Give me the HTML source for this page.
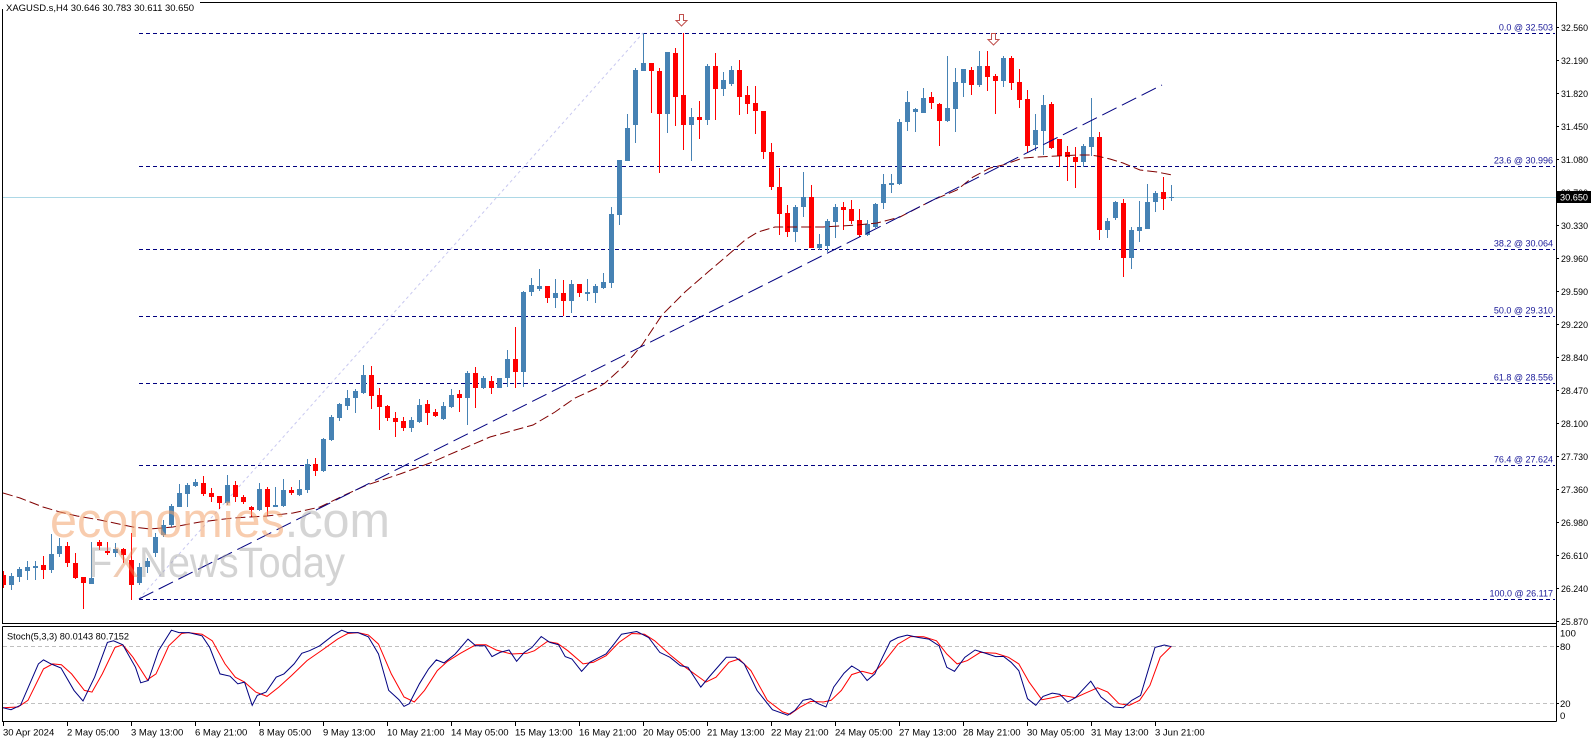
<!DOCTYPE html>
<html><head><meta charset="utf-8"><style>
html,body{margin:0;padding:0;background:#fff;}
svg{display:block;}
text{font-family:"Liberation Sans",sans-serif;}
</style></head><body>
<svg width="1596" height="743" viewBox="0 0 1596 743" xmlns="http://www.w3.org/2000/svg">
<defs><clipPath id="pc"><rect x="3" y="3" width="1553" height="620"/></clipPath>
<clipPath id="sc"><rect x="3" y="627" width="1553" height="94"/></clipPath></defs>
<rect width="1596" height="743" fill="#fff"/>

<!-- frame -->
<g stroke="#000" stroke-width="1" fill="none" shape-rendering="crispEdges">
<path d="M2.5 2.5H1556.5V721.5M2.5 2.5V623.5H1556.5M2.5 626.5H1556.5M2.5 626.5V721.5H1556.5"/>
</g>

<g clip-path="url(#pc)">
<!-- current price line -->
<line x1="3" y1="197.5" x2="1556" y2="197.5" stroke="#add8e6" stroke-width="1"/>
<!-- fib levels -->
<g stroke="#000080" stroke-width="1" stroke-dasharray="4 3" shape-rendering="crispEdges">
<line x1="139" y1="33.5" x2="1555" y2="33.5"/>
<line x1="139" y1="166.5" x2="1555" y2="166.5"/>
<line x1="139" y1="249.5" x2="1555" y2="249.5"/>
<line x1="139" y1="316.5" x2="1555" y2="316.5"/>
<line x1="139" y1="383.5" x2="1555" y2="383.5"/>
<line x1="139" y1="465.5" x2="1555" y2="465.5"/>
<line x1="139" y1="599.5" x2="1555" y2="599.5"/>
</g>
<line x1="139" y1="599" x2="643" y2="33" stroke="#c8c8f0" stroke-width="1" stroke-dasharray="3 3"/>

<!-- candles -->
<path stroke="#4682b4" stroke-width="1" fill="none" d="M11.5 573V590M19.5 567V582M27.5 561V580M35.5 561V580M51.5 534V573M59.5 538V557M91.5 542V584M115.5 543V557M139.5 563V585M147.5 558V573M155.5 533V557M163.5 520V537M171.5 504V527M179.5 484V507M187.5 483V507M195.5 479V487M227.5 475V505M259.5 483V511M275.5 487V507M283.5 479V507M299.5 480V496M307.5 459V493M323.5 438V472M331.5 415V441M339.5 403V421M347.5 390V410M355.5 389V413M363.5 365V394M411.5 417V432M419.5 399V423M443.5 402V420M451.5 389V408M467.5 371V425M483.5 376V389M499.5 378V388M507.5 350V387M523.5 291V387M531.5 278V296M539.5 269V291M555.5 279V308M571.5 280V313M587.5 279V301M595.5 284V303M603.5 273V289M611.5 207V288M619.5 160V225M627.5 114V161M635.5 68V143M643.5 33V71M667.5 52V133M691.5 108V161M707.5 64V125M723.5 72V96M731.5 66V86M795.5 205V242M803.5 172V217M819.5 234V250M827.5 219V252M835.5 204V238M867.5 220V236M875.5 203V228M883.5 174V209M891.5 174V193M899.5 119V185M907.5 91V131M915.5 108V132M923.5 88V113M947.5 56V122M955.5 68V132M963.5 69V97M979.5 51V87M1003.5 56V87M1035.5 114V151M1043.5 95V155M1083.5 144V167M1091.5 98V156M1107.5 218V238M1115.5 201V220M1131.5 227V269M1139.5 201V242M1147.5 184V229M1155.5 191V212M1171.5 185V201"/>
<path fill="#4682b4" d="M9 576h5V585h-5ZM17 569h5V577h-5ZM25 567h5V571h-5ZM33 566h5V568h-5ZM49 554h5V570h-5ZM57 546h5V554h-5ZM89 578h5V584h-5ZM113 549h5V553h-5ZM137 567h5V583h-5ZM145 561h5V567h-5ZM153 537h5V553h-5ZM161 525h5V535h-5ZM169 506h5V525h-5ZM177 493h5V507h-5ZM185 485h5V494h-5ZM193 482h5V486h-5ZM225 485h5V503h-5ZM257 489h5V510h-5ZM273 505h5V507h-5ZM281 490h5V506h-5ZM297 489h5V495h-5ZM305 464h5V490h-5ZM321 439h5V471h-5ZM329 417h5V440h-5ZM337 404h5V418h-5ZM345 398h5V406h-5ZM353 391h5V398h-5ZM361 375h5V393h-5ZM409 420h5V428h-5ZM417 405h5V422h-5ZM441 406h5V419h-5ZM449 395h5V407h-5ZM465 373h5V398h-5ZM481 378h5V388h-5ZM497 378h5V388h-5ZM505 359h5V378h-5ZM521 292h5V372h-5ZM529 285h5V292h-5ZM537 286h5V289h-5ZM553 293h5V298h-5ZM569 284h5V301h-5ZM585 292h5V294h-5ZM593 286h5V293h-5ZM601 282h5V288h-5ZM609 214h5V283h-5ZM617 160h5V215h-5ZM625 128h5V161h-5ZM633 70h5V125h-5ZM641 63h5V71h-5ZM665 52h5V114h-5ZM689 117h5V125h-5ZM705 66h5V120h-5ZM721 80h5V89h-5ZM729 70h5V84h-5ZM793 207h5V232h-5ZM801 197h5V207h-5ZM817 244h5V248h-5ZM825 221h5V246h-5ZM833 207h5V222h-5ZM865 224h5V235h-5ZM873 204h5V227h-5ZM881 184h5V203h-5ZM889 183h5V185h-5ZM897 122h5V184h-5ZM905 102h5V122h-5ZM913 109h5V112h-5ZM921 98h5V113h-5ZM945 108h5V121h-5ZM953 82h5V109h-5ZM961 69h5V83h-5ZM977 66h5V85h-5ZM1001 58h5V81h-5ZM1033 130h5V145h-5ZM1041 105h5V131h-5ZM1081 146h5V162h-5ZM1089 137h5V147h-5ZM1105 221h5V230h-5ZM1113 202h5V218h-5ZM1129 230h5V258h-5ZM1137 227h5V231h-5ZM1145 202h5V229h-5ZM1153 193h5V202h-5ZM1169 197h5V198h-5Z"/>
<path stroke="#ff0000" stroke-width="1" fill="none" d="M3.5 571V588M43.5 556V579M67.5 542V567M75.5 553V579M83.5 577V609M99.5 540V550M107.5 542V555M123.5 548V563M131.5 533V600M203.5 476V496M211.5 488V502M219.5 496V509M235.5 481V502M243.5 495V504M251.5 506V517M267.5 487V516M291.5 487V495M315.5 458V476M371.5 366V409M379.5 388V430M387.5 405V421M395.5 412V437M403.5 417V431M427.5 400V425M435.5 409V417M459.5 390V412M475.5 367V408M491.5 376V394M515.5 327V388M547.5 286V303M563.5 280V316M579.5 284V297M651.5 63V113M659.5 68V173M675.5 48V126M683.5 33V150M699.5 101V139M715.5 53V120M739.5 60V115M747.5 86V114M755.5 86V134M763.5 111V159M771.5 143V190M779.5 168V235M787.5 205V237M811.5 185V248M843.5 202V230M851.5 200V224M859.5 209V237M931.5 92V109M939.5 103V146M971.5 67V95M987.5 51V91M995.5 74V114M1011.5 56V90M1019.5 69V108M1027.5 90V153M1051.5 102V149M1059.5 139V167M1067.5 146V181M1075.5 147V188M1099.5 132V240M1123.5 199V277M1163.5 177V210"/>
<path fill="#ff0000" d="M1 575h5V585h-5ZM41 565h5V570h-5ZM65 546h5V563h-5ZM73 563h5V578h-5ZM81 577h5V583h-5ZM97 542h5V546h-5ZM105 551h5V553h-5ZM121 549h5V555h-5ZM129 560h5V585h-5ZM201 483h5V494h-5ZM209 493h5V497h-5ZM217 496h5V503h-5ZM233 485h5V497h-5ZM241 497h5V502h-5ZM249 507h5V510h-5ZM265 489h5V507h-5ZM289 490h5V493h-5ZM313 464h5V471h-5ZM369 375h5V396h-5ZM377 395h5V407h-5ZM385 406h5V418h-5ZM393 418h5V422h-5ZM401 421h5V428h-5ZM425 404h5V413h-5ZM433 412h5V416h-5ZM457 394h5V398h-5ZM473 373h5V388h-5ZM489 381h5V388h-5ZM513 359h5V372h-5ZM545 286h5V298h-5ZM561 293h5V301h-5ZM577 284h5V293h-5ZM649 63h5V71h-5ZM657 71h5V114h-5ZM673 53h5V97h-5ZM681 95h5V125h-5ZM697 117h5V120h-5ZM713 66h5V89h-5ZM737 70h5V97h-5ZM745 95h5V104h-5ZM753 103h5V111h-5ZM761 111h5V152h-5ZM769 152h5V187h-5ZM777 187h5V214h-5ZM785 213h5V232h-5ZM809 197h5V248h-5ZM841 207h5V210h-5ZM849 209h5V221h-5ZM857 220h5V235h-5ZM929 97h5V103h-5ZM937 104h5V121h-5ZM969 70h5V85h-5ZM985 66h5V77h-5ZM993 76h5V81h-5ZM1009 58h5V83h-5ZM1017 82h5V100h-5ZM1025 99h5V146h-5ZM1049 104h5V148h-5ZM1057 139h5V156h-5ZM1065 152h5V157h-5ZM1073 157h5V162h-5ZM1097 137h5V230h-5ZM1121 203h5V258h-5ZM1161 192h5V199h-5Z"/>

<!-- moving average -->
<polyline fill="none" stroke="#800000" stroke-width="1" stroke-dasharray="10 4" points="3,493 20,498 43,507 60,512 77,516 100,520 133,527 150,529 173,527 200,522 233,518 267,516 293,513 320,507 347,494 367,485 400,474 430,463 460,450 490,437 515,430 533,425 555,412 575,398 597,388 605,383 625,365 642,345 662,315 685,292 708,272 728,255 745,240 758,232 775,227 800,227 823,227 857,225 877,223 900,217 933,200 957,190 973,177 990,168 1003,165 1023,158 1038,157 1057,156 1077,155 1090,155 1097,156 1110,159 1123,163 1140,170 1157,172 1172,175"/>
<!-- trendline -->
<line x1="139" y1="599" x2="1162" y2="85" stroke="#000080" stroke-width="1" stroke-dasharray="16 6"/>

<!-- watermark -->
<text x="50" y="537" font-size="49" textLength="340" lengthAdjust="spacingAndGlyphs" fill="#f4a46c" opacity="0.55">economies<tspan fill="#b4b4b4">.com</tspan></text>
<text x="88" y="577" font-size="43" textLength="257" lengthAdjust="spacingAndGlyphs" fill="#a0a0a0" opacity="0.45">F<tspan fill="#e0905a">X</tspan>NewsToday</text>

<!-- arrows -->
<path d="M679.5 14.5h4v6h3.5l-5.5 5.5l-5.5-5.5h3.5z" fill="#fff" stroke="#c0504d" stroke-width="1"/>
<path d="M991.5 33.5h4v6h3.5l-5.5 5.5l-5.5-5.5h3.5z" fill="#fff" stroke="#c0504d" stroke-width="1"/>
</g>

<!-- header -->
<rect x="0" y="0" width="200" height="9" fill="#fff"/>
<text x="6" y="11" font-size="9.5" textLength="188" lengthAdjust="spacingAndGlyphs" fill="#000">XAGUSD.s,H4  30.646 30.783 30.611 30.650</text>

<!-- fib labels -->
<g font-size="9" fill="#1a1a99" text-anchor="end">
<text x="1553" y="30.5">0.0 @ 32.503</text>
<text x="1553" y="163.5">23.6 @ 30.996</text>
<text x="1553" y="246.5">38.2 @ 30.064</text>
<text x="1553" y="313.5">50.0 @ 29.310</text>
<text x="1553" y="380.5">61.8 @ 28.556</text>
<text x="1553" y="462.5">76.4 @ 27.624</text>
<text x="1553" y="596.5">100.0 @ 26.117</text>
</g>

<!-- price axis -->
<path stroke="#000" stroke-width="1" shape-rendering="crispEdges" d="M1556 27.5h3M1556 60.5h3M1556 93.5h3M1556 126.5h3M1556 159.5h3M1556 192.5h3M1556 225.5h3M1556 258.5h3M1556 291.5h3M1556 324.5h3M1556 357.5h3M1556 390.5h3M1556 423.5h3M1556 456.5h3M1556 489.5h3M1556 522.5h3M1556 555.5h3M1556 588.5h3M1556 621.5h3"/>
<g font-size="9.5" fill="#000">
<text x="1561" y="31" textLength="27" lengthAdjust="spacingAndGlyphs">32.560</text>
<text x="1561" y="64" textLength="27" lengthAdjust="spacingAndGlyphs">32.190</text>
<text x="1561" y="97" textLength="27" lengthAdjust="spacingAndGlyphs">31.820</text>
<text x="1561" y="130" textLength="27" lengthAdjust="spacingAndGlyphs">31.450</text>
<text x="1561" y="163" textLength="27" lengthAdjust="spacingAndGlyphs">31.080</text>
<text x="1561" y="196" textLength="27" lengthAdjust="spacingAndGlyphs">30.700</text>
<text x="1561" y="229" textLength="27" lengthAdjust="spacingAndGlyphs">30.330</text>
<text x="1561" y="262" textLength="27" lengthAdjust="spacingAndGlyphs">29.960</text>
<text x="1561" y="295" textLength="27" lengthAdjust="spacingAndGlyphs">29.590</text>
<text x="1561" y="328" textLength="27" lengthAdjust="spacingAndGlyphs">29.220</text>
<text x="1561" y="361" textLength="27" lengthAdjust="spacingAndGlyphs">28.840</text>
<text x="1561" y="394" textLength="27" lengthAdjust="spacingAndGlyphs">28.470</text>
<text x="1561" y="427" textLength="27" lengthAdjust="spacingAndGlyphs">28.100</text>
<text x="1561" y="460" textLength="27" lengthAdjust="spacingAndGlyphs">27.730</text>
<text x="1561" y="493" textLength="27" lengthAdjust="spacingAndGlyphs">27.360</text>
<text x="1561" y="526" textLength="27" lengthAdjust="spacingAndGlyphs">26.980</text>
<text x="1561" y="559" textLength="27" lengthAdjust="spacingAndGlyphs">26.610</text>
<text x="1561" y="592" textLength="27" lengthAdjust="spacingAndGlyphs">26.240</text>
<text x="1561" y="625" textLength="27" lengthAdjust="spacingAndGlyphs">25.870</text>
</g>
<rect x="1557" y="191" width="34" height="12" fill="#000"/>
<text x="1560" y="200.5" font-size="9.5" fill="#fff" textLength="28" lengthAdjust="spacingAndGlyphs">30.650</text>

<!-- stochastic panel -->
<g clip-path="url(#sc)">
<g stroke="#c0c0c0" stroke-width="1" stroke-dasharray="4 3" shape-rendering="crispEdges">
<line x1="3" y1="646.5" x2="1556" y2="646.5"/>
<line x1="3" y1="703.5" x2="1556" y2="703.5"/>
</g>
<polyline fill="none" stroke="#ff0000" stroke-width="1" points="3,707.7 18,707 28,700.3 43.5,668.9 52.7,663.9 61.4,664.7 71.6,673.9 84.4,690.4 92,692.1 102.3,673.9 115,647.4 122.8,644.8 133,657.3 147.3,679.8 156,673.9 168.8,645.8 181.6,633.5 188.2,632.6 202,634.2 212.3,640.8 225,663.9 235.3,677.2 244.5,682.1 255.8,692.1 267,696.4 278.8,687.1 291.6,675.5 307,660.6 322.3,650 337.6,639.1 347.8,633.5 358,632.6 368.3,634.9 378.5,644.1 391.3,673.9 404,697 414.3,702 424.5,690.4 437.3,670.6 447.6,661.3 460.4,653.3 475.7,644.8 486,644.8 496.2,650 511.5,654 526.9,653.3 534.5,650.7 547.3,641.5 557.5,643.4 567.8,650.7 583.1,663.9 593.4,662.3 606.1,655.7 619,642.4 631.7,633.5 644.5,634.2 654.7,640.8 670,654.7 685.4,667.3 705.9,682.1 716,677.2 728.9,662.3 739.1,659 750.9,670.6 767.3,700.3 782.6,711.9 790,714.3 800.3,707 810.6,701.4 823.4,702 831.1,700.3 841.4,690.4 851.7,674.6 862,671.3 872.3,673.9 882.5,663.9 898,644.1 910.8,636.5 923.7,636.8 936.5,640.8 946.8,654 957.1,663.9 967.4,660.6 980.2,652.4 995.7,653.3 1008.5,657.3 1018.8,663.9 1029.1,682.1 1041.9,699.7 1052.2,697.7 1062.5,695.4 1075.3,697.7 1085.6,693.1 1097.5,687.8 1107.7,692.1 1119,703.7 1129.3,705.3 1139.6,700.3 1149.9,685.4 1160.2,657.3 1171.5,646.1"/>
<polyline fill="none" stroke="#000080" stroke-width="1" points="3,707.7 11,709.7 20.5,705.3 38.4,663.9 43.5,659.9 51,663.9 61,668 74,690.4 83,701 94.6,677.2 107.4,642.4 113.5,640.8 122.8,644.8 135.5,667.3 140.7,682.8 148.3,680.5 158.5,650.7 171.4,630.2 179,632.6 189,632.6 202,635.8 209.7,647.4 220,673.9 230,676.2 237.8,683.8 244.5,682.1 252.2,705.3 257.3,695.4 266,692.1 276.2,677.2 283.9,673.9 294.1,663.9 301.8,653.3 309.5,650.7 319.7,645.8 332.5,635.8 341.7,630.2 347.8,632.6 358,632.6 368.3,636.8 378.5,654 388.7,690.4 399,699.7 404,706.4 409.2,703.7 419.4,683.8 428.6,668.9 436.3,659.9 444,662.9 455.2,654 468,639.1 475.7,645.8 485,645.8 492,656.6 500,652.4 509,650 516.6,661.3 524.3,652.4 532,647.4 541.2,636.5 549.9,642.4 558.6,644.8 565.2,656.6 571.9,659 581.6,671.3 589.8,662.3 597.4,658.3 606,654 614,644.1 621.5,634.2 636.8,631.5 648.6,637.5 659.8,652.4 670,657.3 680.3,665.6 688,667.3 700.8,687.1 709.5,676.5 726.3,657.3 735.5,657.3 744.2,663.9 757,690.4 772.4,709.7 787.7,715.2 795,710.3 803,700.3 810.6,698.7 818.3,703.7 826,707 833.7,687.1 844,673.2 851.7,666 859.4,670.6 867.1,680.5 874.8,673.9 882.5,657.3 890.3,641.4 898,637.5 907.2,635.1 918.5,637.5 928.8,639.1 939.1,645.8 946.8,667.3 954.5,671.3 964.8,657.3 975.1,650 982.8,652.4 995.7,656.6 1003.4,656.4 1011.1,662.3 1018.8,670.6 1027.5,698.7 1035.8,705.3 1043,696.4 1052.2,693.1 1059.9,694.4 1067.6,702 1075.3,697.7 1090.8,681.2 1101,697 1113.9,707 1123.2,707.7 1131.9,700.3 1140.6,695.4 1155,647.4 1164.3,645 1171.5,646.7"/>
</g>
<text x="7" y="639.5" font-size="9.5" fill="#000" textLength="122" lengthAdjust="spacingAndGlyphs">Stoch(5,3,3) 80.0143 80.7152</text>
<g font-size="9.5" fill="#000">
<text x="1560" y="636.5">100</text>
<text x="1560" y="650">80</text>
<text x="1560" y="707">20</text>
<text x="1560" y="719">0</text>
</g>
<path stroke="#000" stroke-width="1" shape-rendering="crispEdges" d="M1556 646.5h3M1556 703.5h3"/>

<!-- time axis -->
<path stroke="#000" stroke-width="1" shape-rendering="crispEdges" d="M3.5 722v4M67.5 722v4M131.5 722v4M195.5 722v4M259.5 722v4M323.5 722v4M387.5 722v4M451.5 722v4M515.5 722v4M579.5 722v4M643.5 722v4M707.5 722v4M771.5 722v4M835.5 722v4M899.5 722v4M963.5 722v4M1027.5 722v4M1091.5 722v4M1155.5 722v4"/>
<g font-size="9.5" fill="#000">
<text x="3" y="735.5">30 Apr 2024</text>
<text x="67" y="735.5">2 May 05:00</text>
<text x="131" y="735.5">3 May 13:00</text>
<text x="195" y="735.5">6 May 21:00</text>
<text x="259" y="735.5">8 May 05:00</text>
<text x="323" y="735.5">9 May 13:00</text>
<text x="387" y="735.5">10 May 21:00</text>
<text x="451" y="735.5">14 May 05:00</text>
<text x="515" y="735.5">15 May 13:00</text>
<text x="579" y="735.5">16 May 21:00</text>
<text x="643" y="735.5">20 May 05:00</text>
<text x="707" y="735.5">21 May 13:00</text>
<text x="771" y="735.5">22 May 21:00</text>
<text x="835" y="735.5">24 May 05:00</text>
<text x="899" y="735.5">27 May 13:00</text>
<text x="963" y="735.5">28 May 21:00</text>
<text x="1027" y="735.5">30 May 05:00</text>
<text x="1091" y="735.5">31 May 13:00</text>
<text x="1155" y="735.5">3 Jun 21:00</text>
</g>
</svg>
</body></html>
